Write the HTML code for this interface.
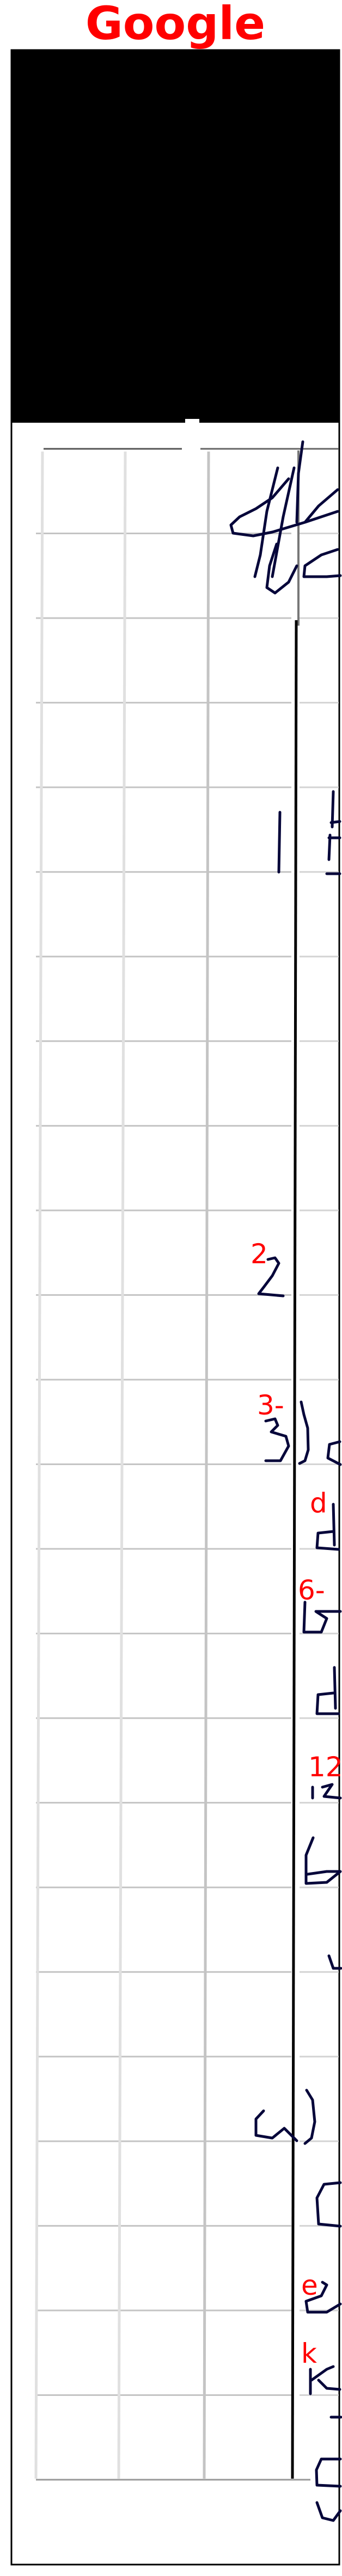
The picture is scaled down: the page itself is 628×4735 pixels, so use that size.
<!DOCTYPE html>
<html>
<head>
<meta charset="utf-8">
<style>
html,body{margin:0;padding:0;background:#fff;}
svg{display:block;}
</style>
</head>
<body>
<svg width="628" height="4735" viewBox="0 0 628 4735" xmlns="http://www.w3.org/2000/svg">
  <text x="322" y="72" text-anchor="middle" font-family="DejaVu Sans, Liberation Sans, sans-serif" font-weight="bold" font-size="84" fill="#ff0000">Google</text>

  <rect x="21" y="92" width="602" height="4622" fill="#fff" stroke="#000" stroke-width="3"/>
  <rect x="21" y="92" width="602" height="685" fill="#000"/>
  <rect x="340" y="770" width="26" height="8" fill="#fff"/>

  <g id="grid"></g>

  <line x1="80" y1="825" x2="334" y2="825" stroke="#555" stroke-width="3"/>
  <line x1="368" y1="825" x2="622" y2="825" stroke="#666" stroke-width="3"/>
  <line x1="548" y1="828" x2="548" y2="1150" stroke="#777" stroke-width="4"/>
  <line x1="544" y1="1140" x2="537" y2="4556" stroke="#000" stroke-width="5"/>
  <line x1="66" y1="4558" x2="570" y2="4558" stroke="#999" stroke-width="3"/>

  <g fill="none" stroke="#06063a" stroke-width="5" stroke-linecap="round" stroke-linejoin="round">
    <path d="M556 812 L548 870 L545 960 M540 860 L520 950 L500 1060 M510 860 L490 940 L478 1020 L468 1060 M530 880 L500 915 L470 935 L440 950 L424 965 L428 980 L465 985 L500 978 L560 960 L620 940 M620 900 L585 930 L560 960 M620 1010 L590 1020 L560 1040 L558 1060 L600 1060 L625 1058 M508 1000 L495 1040 L490 1080 L505 1090 L530 1070 L545 1040"/>
    <path d="M514 1493 L512 1603"/>
    <path d="M612 1455 L610 1520 M624 1510 L608 1512 M606 1535 L604 1580 M604 1540 L624 1540 M600 1606 L624 1606"/>
    <path d="M492 2315 L505 2312 L512 2322 L500 2345 L485 2365 L475 2378 L520 2382"/>
    <path d="M553 2577 L558 2600 L565 2625 L566 2665 L560 2685 L550 2690"/>
    <path d="M488 2612 L505 2608 L510 2620 L498 2632 L525 2640 L530 2658 L515 2685 L488 2685"/>
    <path d="M624 2650 L605 2655 L602 2680 L625 2692"/>
    <path d="M612 2765 L614 2840 M612 2815 L584 2818 L582 2845 L622 2848"/>
    <path d="M560 2945 L558 3000 L590 3000 L600 2975 L580 2962 L625 2962"/>
    <path d="M614 3065 L616 3140 M612 3112 L584 3115 L582 3150 L622 3150"/>
    <path d="M574 3285 L574 3305 M592 3285 L610 3280 L595 3302 L625 3305"/>
    <path d="M575 3378 L562 3410 L562 3462 L600 3460 L625 3440 L600 3440 L565 3445"/>
    <path d="M604 3595 L612 3618 L626 3618"/>
    <path d="M484 3880 L470 3895 L470 3925 L500 3930 L522 3912 L545 3935"/>
    <path d="M563 3842 L574 3860 L578 3900 L572 3930 L560 3940"/>
    <path d="M625 4012 L595 4015 L582 4040 L585 4088 L625 4092"/>
    <path d="M592 4195 L600 4200 L590 4220 L562 4230 L565 4250 L600 4250 L625 4235"/>
    <path d="M570 4355 L570 4400 M572 4375 L600 4355 L612 4350 M585 4375 L600 4390 L624 4392"/>
    <path d="M608 4443 L626 4443"/>
    <path d="M625 4520 L590 4520 L581 4540 L582 4568 L625 4570"/>
    <path d="M582 4600 L592 4628 L612 4633 L625 4615"/>
  </g>

  <g font-family="DejaVu Sans, Liberation Sans, sans-serif" font-size="50" fill="#ff0000">
    <text x="460" y="2322">2</text>
    <text x="472" y="2600">3-</text>
    <text x="569" y="2780">d</text>
    <text x="547" y="2940">6-</text>
    <text x="566" y="3265">12</text>
    <text x="553" y="4218">e</text>
    <text x="553" y="4343">k</text>
  </g>
</svg>
<script>
const rowCount = 25;
const columnLabels = ['col-a','col-b','col-c'];
const g = document.getElementById('grid');
const ns = 'http://www.w3.org/2000/svg';
const top0 = 825, bottom0 = 4558;
const step = (bottom0 - top0) / (rowCount - 1);
for (let i = 1; i < rowCount - 1; i++) {
  const y = top0 + i * step;
  const l = document.createElementNS(ns, 'line');
  
  
  l.setAttribute('x1', 66); l.setAttribute('x2', 535);
  l.setAttribute('y1', y); l.setAttribute('y2', y);
  l.setAttribute('stroke', '#c4c4c4'); l.setAttribute('stroke-width', 3);
  g.appendChild(l);
  const r = document.createElementNS(ns, 'line');
  
  
  r.setAttribute('x1', 550); r.setAttribute('x2', 622);
  r.setAttribute('y1', y); r.setAttribute('y2', y);
  r.setAttribute('stroke', '#d4d4d4'); r.setAttribute('stroke-width', 3);
  g.appendChild(r);
}
const colX = [70, 226, 383];
columnLabels.forEach((c, i) => {
  const v = document.createElementNS(ns, 'line');
  
  
  v.setAttribute('x1', colX[i] + 8 - i * 4); v.setAttribute('x2', colX[i] - (i===0?4:8));
  v.setAttribute('y1', 830); v.setAttribute('y2', 4556);
  v.setAttribute('stroke', i === 2 ? '#c4c4c4' : '#e0e0e0'); v.setAttribute('stroke-width', 5);
  g.appendChild(v);
});
</script>
</body>
</html>
